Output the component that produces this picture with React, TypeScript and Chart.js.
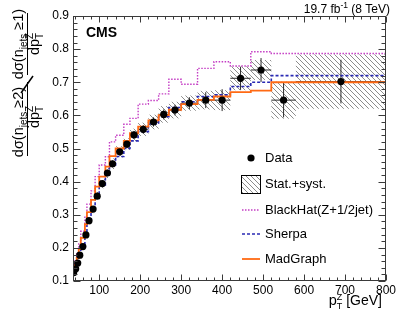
import React, { useEffect, useRef } from "react";
import { Chart, registerables } from "chart.js";

Chart.register(...registerables);

const FONT = '"Liberation Sans", Arial, Helvetica, sans-serif';

// ---- data ----
const binEdges = [35, 40, 45, 50, 55, 65, 70, 80, 90, 100, 115, 125, 140, 160, 175, 195, 220, 245, 270, 300, 340, 380, 420, 470, 520, 580, 800];
const dataValues = [0.125, 0.137, 0.154, 0.178, 0.204, 0.239, 0.282, 0.317, 0.356, 0.394, 0.426, 0.454, 0.49, 0.513, 0.541, 0.558, 0.58, 0.603, 0.616, 0.637, 0.646, 0.646, 0.712, 0.737, 0.646, 0.702];
const dataErrors = [0.006, 0.006, 0.006, 0.007, 0.007, 0.008, 0.008, 0.008, 0.009, 0.009, 0.01, 0.01, 0.011, 0.012, 0.012, 0.013, 0.014, 0.015, 0.016, 0.018, 0.024, 0.033, 0.035, 0.036, 0.052, 0.066];
const totalErrors = [0.008, 0.008, 0.009, 0.009, 0.01, 0.01, 0.011, 0.012, 0.013, 0.014, 0.015, 0.016, 0.017, 0.018, 0.019, 0.02, 0.022, 0.025, 0.025, 0.023, 0.028, 0.03, 0.036, 0.03, 0.056, 0.082];
const blackHatValues = [0.128, 0.14, 0.16, 0.185, 0.212, 0.25, 0.296, 0.332, 0.372, 0.415, 0.45, 0.475, 0.52, 0.54, 0.573, 0.591, 0.634, 0.645, 0.665, 0.709, 0.694, 0.742, 0.762, 0.749, 0.792, 0.787];
const sherpaValues = [0.11, 0.12, 0.135, 0.157, 0.182, 0.21, 0.248, 0.284, 0.318, 0.355, 0.39, 0.42, 0.45, 0.476, 0.5, 0.523, 0.551, 0.574, 0.596, 0.624, 0.641, 0.657, 0.662, 0.687, 0.7, 0.72];
const madGraphValues = [0.12, 0.13, 0.148, 0.17, 0.196, 0.23, 0.272, 0.308, 0.345, 0.385, 0.415, 0.445, 0.477, 0.5, 0.523, 0.546, 0.566, 0.585, 0.601, 0.617, 0.634, 0.647, 0.657, 0.67, 0.675, 0.7];
const xTickValues = [100, 200, 300, 400, 500, 600, 700, 800];
const yTickValues = [0.1, 0.2, 0.3, 0.4, 0.5, 0.6, 0.7, 0.8, 0.9];
const legendLabels = ["Data", "Stat.+syst.", "BlackHat(Z+1/2jet)", "Sherpa", "MadGraph"];

const X_MIN = 36;
const X_MAX = 800;
const Y_MIN = 0.1;
const Y_MAX = 0.9;

const COLORS = {
  blackHat: "#c43cc4",
  sherpa: "#2a2ab4",
  madGraph: "#ff6a14",
  hatch: "#8c8c8c",
  frame: "#3a3a3a",
};

const centers = dataValues.map((_, i) => (binEdges[i] + binEdges[i + 1]) / 2);
const stepPoints = (vals: number[]) =>
  binEdges.map((e, i) => ({ x: e, y: vals[Math.min(i, vals.length - 1)] }));

function makeHatch(ctx: CanvasRenderingContext2D) {
  const c = document.createElement("canvas");
  c.width = 5;
  c.height = 5;
  const g = c.getContext("2d")!;
  g.strokeStyle = COLORS.hatch;
  g.lineWidth = 1;
  g.beginPath();
  g.moveTo(-1, -1);
  g.lineTo(6, 6);
  g.moveTo(-1, 4);
  g.lineTo(1, 6);
  g.moveTo(4, -1);
  g.lineTo(6, 1);
  g.stroke();
  return ctx.createPattern(c, "repeat")!;
}

type Part = { t: string; s: number; dy: number; stackNext?: boolean };

function partsWidth(ctx: CanvasRenderingContext2D, parts: Part[]) {
  let w = 0;
  let pendingStack = 0;
  for (const p of parts) {
    ctx.font = `${p.s}px ${FONT}`;
    const pw = ctx.measureText(p.t).width;
    if (p.stackNext) {
      pendingStack = pw;
    } else {
      w += Math.max(pw, pendingStack);
      pendingStack = 0;
    }
  }
  return w;
}

function drawParts(ctx: CanvasRenderingContext2D, parts: Part[], x0: number, y0: number) {
  let u = x0;
  let pendingStack = 0;
  for (const p of parts) {
    ctx.font = `${p.s}px ${FONT}`;
    ctx.fillText(p.t, u, y0 + p.dy);
    const pw = ctx.measureText(p.t).width;
    if (p.stackNext) {
      pendingStack = pw;
    } else {
      u += Math.max(pw, pendingStack);
      pendingStack = 0;
    }
  }
}

function drawRotated(ctx: CanvasRenderingContext2D, parts: Part[], sx: number, syCenter: number) {
  ctx.save();
  ctx.translate(sx, syCenter);
  ctx.rotate(-Math.PI / 2);
  ctx.textBaseline = "alphabetic";
  ctx.textAlign = "left";
  const w = partsWidth(ctx, parts);
  drawParts(ctx, parts, -w / 2, 0);
  ctx.restore();
}

const decorPlugin = {
  id: "decor",
  beforeDatasetsDraw(chart: any) {
    const ctx: CanvasRenderingContext2D = chart.ctx;
    const xs = chart.scales.x;
    const ys = chart.scales.y;
    const area = chart.chartArea;
    ctx.save();
    ctx.beginPath();
    ctx.rect(area.left, area.top, area.right - area.left, area.bottom - area.top);
    ctx.clip();
    const pat = makeHatch(ctx);
    ctx.fillStyle = pat;
    dataValues.forEach((v, i) => {
      const x0 = xs.getPixelForValue(binEdges[i]);
      const x1 = xs.getPixelForValue(binEdges[i + 1]);
      const y0 = ys.getPixelForValue(v + totalErrors[i]);
      const y1 = ys.getPixelForValue(v - totalErrors[i]);
      ctx.fillRect(x0, y0, x1 - x0, y1 - y0);
    });
    ctx.restore();
    ctx.save();
    ctx.strokeStyle = "#2a2a2a";
    ctx.lineWidth = 1;
    dataValues.forEach((v, i) => {
      const cx = xs.getPixelForValue(centers[i]);
      const cy = ys.getPixelForValue(v);
      const x0 = Math.max(area.left, xs.getPixelForValue(binEdges[i]));
      const x1 = xs.getPixelForValue(binEdges[i + 1]);
      const yt = ys.getPixelForValue(v + dataErrors[i]);
      const yb = ys.getPixelForValue(v - dataErrors[i]);
      ctx.beginPath();
      ctx.moveTo(x0, cy);
      ctx.lineTo(x1, cy);
      ctx.moveTo(cx, yt);
      ctx.lineTo(cx, yb);
      ctx.stroke();
    });
    ctx.restore();
  },
  afterDraw(chart: any) {
    const ctx: CanvasRenderingContext2D = chart.ctx;
    const xs = chart.scales.x;
    const ys = chart.scales.y;
    const { left, right, top, bottom } = chart.chartArea;
    ctx.save();
    ctx.strokeStyle = COLORS.frame;
    ctx.lineWidth = 1;
    const L = Math.round(left) + 0.5;
    const R = Math.round(right) - 0.5;
    const T = Math.round(top) + 0.5;
    const B = Math.round(bottom) - 0.5;
    ctx.strokeRect(L, T, R - L, B - T);
    ctx.beginPath();
    for (let v = 40; v <= X_MAX; v += 20) {
      const px = Math.round(xs.getPixelForValue(v)) + 0.5;
      const len = v % 100 === 0 ? 6 : 3;
      ctx.moveTo(px, B);
      ctx.lineTo(px, B - len);
      ctx.moveTo(px, T);
      ctx.lineTo(px, T + len);
    }
    for (let k = 0; k <= 40; k++) {
      const v = Y_MIN + k * 0.02;
      const py = Math.round(ys.getPixelForValue(v)) + 0.5;
      const len = k % 5 === 0 ? 7 : 4;
      ctx.moveTo(L, py);
      ctx.lineTo(L + len, py);
      ctx.moveTo(R, py);
      ctx.lineTo(R - len, py);
    }
    ctx.stroke();

    ctx.fillStyle = "#000";
    ctx.textBaseline = "alphabetic";
    ctx.font = `bold 14px ${FONT}`;
    ctx.textAlign = "left";
    ctx.fillText("CMS", 86, 37);

    const lumi: Part[] = [
      { t: "19.7 fb", s: 12, dy: 0 },
      { t: "-1", s: 8.5, dy: -5 },
      { t: " (8 TeV)", s: 12, dy: 0 },
    ];
    const lw = partsWidth(ctx, lumi);
    drawParts(ctx, lumi, 390 - lw, 13);

    const xt: Part[] = [
      { t: "p", s: 14.5, dy: 0 },
      { t: "Z", s: 9, dy: -5, stackNext: true },
      { t: "T", s: 9, dy: 3.5 },
      { t: " [GeV]", s: 14, dy: 0 },
    ];
    const xw = partsWidth(ctx, xt);
    drawParts(ctx, xt, 382 - xw, 305);

    // y title (rotated ratio of fractions)
    const num2: Part[] = [
      { t: "dσ(n", s: 14.5, dy: 0 },
      { t: "jets", s: 10, dy: 4 },
      { t: " ≥2)", s: 14.5, dy: 0 },
    ];
    const num1: Part[] = [
      { t: "dσ(n", s: 14.5, dy: 0 },
      { t: "jets", s: 10, dy: 4 },
      { t: " ≥1)", s: 14.5, dy: 0 },
    ];
    const den: Part[] = [
      { t: "dp", s: 14.5, dy: 0 },
      { t: "Z", s: 10, dy: -6, stackNext: true },
      { t: "T", s: 10, dy: 4 },
    ];
    drawRotated(ctx, num2, 23, 122);
    drawRotated(ctx, den, 38.5, 117);
    drawRotated(ctx, num1, 23, 44);
    drawRotated(ctx, den, 38.5, 44);
    ctx.beginPath();
    ctx.lineWidth = 1;
    ctx.strokeStyle = "#000";
    ctx.moveTo(27.5, 156);
    ctx.lineTo(27.5, 82);
    ctx.moveTo(27.5, 75);
    ctx.lineTo(27.5, 13);
    ctx.stroke();
    ctx.beginPath();
    ctx.lineWidth = 1.5;
    ctx.moveTo(21, 93);
    ctx.lineTo(33, 76);
    ctx.stroke();

    // legend
    ctx.font = `13px ${FONT}`;
    ctx.textAlign = "left";
    ctx.textBaseline = "middle";
    const lx0 = 242;
    const lx1 = 260;
    const tx = 265;
    const ly = [158, 184, 210, 234, 259];
    ctx.fillStyle = "#000";
    ctx.beginPath();
    ctx.arc(251, ly[0], 3.6, 0, Math.PI * 2);
    ctx.fill();
    ctx.fillStyle = makeHatch(ctx);
    ctx.fillRect(241.5, 175.5, 19, 18);
    ctx.strokeStyle = "#000";
    ctx.lineWidth = 1;
    ctx.strokeRect(241.5, 175.5, 19, 18);
    const legLine = (y: number, color: string, dash: number[], w: number) => {
      ctx.beginPath();
      ctx.strokeStyle = color;
      ctx.lineWidth = w;
      ctx.setLineDash(dash);
      ctx.moveTo(lx0, y);
      ctx.lineTo(lx1, y);
      ctx.stroke();
      ctx.setLineDash([]);
    };
    legLine(ly[2], COLORS.blackHat, [1.5, 1.5], 1.4);
    legLine(ly[3], COLORS.sherpa, [3, 2], 1.6);
    legLine(ly[4], COLORS.madGraph, [], 1.8);
    ctx.fillStyle = "#000";
    legendLabels.forEach((lab, i) => ctx.fillText(lab, tx, ly[i] + 0.5));
    ctx.restore();
  },
};

export default function App() {
  const ref = useRef<HTMLCanvasElement | null>(null);
  useEffect(() => {
    if (!ref.current) return;
    const chart = new Chart(ref.current, {
      type: "line",
      data: {
        datasets: [
          {
            label: "Data",
            data: dataValues.map((v, i) => ({ x: centers[i], y: v })),
            showLine: false,
            pointRadius: 3.6,
            pointBackgroundColor: "#000",
            pointBorderColor: "#000",
            pointBorderWidth: 0,
          },
          {
            label: "MadGraph",
            data: stepPoints(madGraphValues),
            stepped: "after",
            borderColor: COLORS.madGraph,
            borderWidth: 1.8,
            pointRadius: 0,
            fill: false,
          },
          {
            label: "Sherpa",
            data: stepPoints(sherpaValues),
            stepped: "after",
            borderColor: COLORS.sherpa,
            borderWidth: 1.6,
            borderDash: [3, 2],
            pointRadius: 0,
            fill: false,
          },
          {
            label: "BlackHat(Z+1/2jet)",
            data: stepPoints(blackHatValues),
            stepped: "after",
            borderColor: COLORS.blackHat,
            borderWidth: 1.4,
            borderDash: [1.5, 1.5],
            pointRadius: 0,
            fill: false,
          },
        ],
      },
      options: {
        responsive: false,
        maintainAspectRatio: false,
        animation: false,
        devicePixelRatio: 1,
        layout: { padding: { top: 16, right: 21, left: 0, bottom: 0 } },
        plugins: { legend: { display: false }, tooltip: { enabled: false } },
        scales: {
          x: {
            type: "linear",
            min: X_MIN,
            max: X_MAX,
            grid: { display: false, drawTicks: false },
            border: { display: false },
            afterBuildTicks: (s: any) => {
              s.ticks = xTickValues.map((v) => ({ value: v }));
            },
            afterFit: (s: any) => {
              s.height = 41;
            },
            ticks: {
              autoSkip: false,
              maxRotation: 0,
              padding: 2,
              color: "#000",
              font: { family: FONT, size: 12 },
              callback: (v: any) => String(v),
            },
          },
          y: {
            type: "linear",
            min: Y_MIN,
            max: Y_MAX,
            grid: { display: false, drawTicks: false },
            border: { display: false },
            afterBuildTicks: (s: any) => {
              s.ticks = yTickValues.map((v) => ({ value: v }));
            },
            afterFit: (s: any) => {
              s.width = 73;
            },
            ticks: {
              autoSkip: false,
              padding: 4,
              color: "#000",
              font: { family: FONT, size: 12 },
              callback: (v: any) => Number(v).toFixed(1),
            },
          },
        },
      },
      plugins: [decorPlugin],
    });
    return () => chart.destroy();
  }, []);
  return (
    <div style={{ position: "absolute", left: 0, top: 0, width: 407, height: 322, background: "#fff" }}>
      <canvas ref={ref} width={407} height={322} style={{ width: 407, height: 322, display: "block" }} />
    </div>
  );
}
